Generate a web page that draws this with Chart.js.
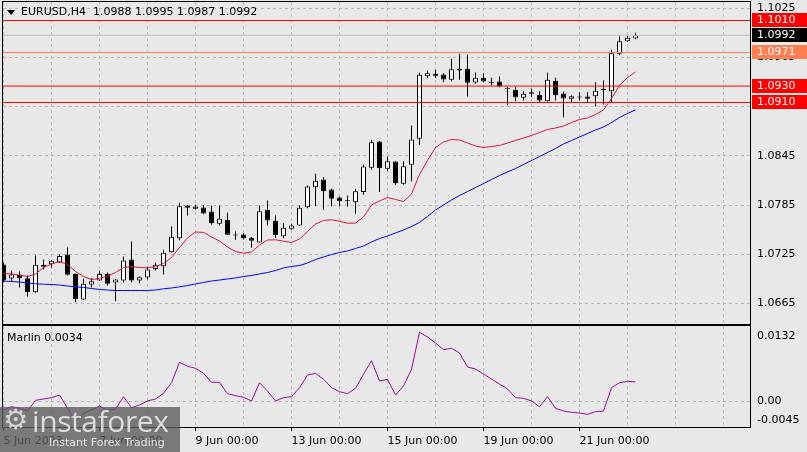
<!DOCTYPE html>
<html>
<head>
<meta charset="utf-8">
<script src="https://cdn.jsdelivr.net/npm/chart.js@4.4.0/dist/chart.umd.min.js"></script>
<style>
html,body{margin:0;padding:0;background:#e8e8e8;}
#wrap{position:relative;width:807px;height:452px;overflow:hidden;background:#e8e8e8;font-family:"DejaVu Sans",sans-serif;color:#000;}
#c1{position:absolute;left:0;top:0;}
#c2{position:absolute;left:0;top:325px;}
#tri{position:absolute;left:7px;top:10px;width:0;height:0;border-left:4px solid transparent;border-right:4px solid transparent;border-top:5px solid #000;}
#hdr{position:absolute;left:21px;top:5px;font-size:11px;line-height:14px;white-space:pre;}
#osc{position:absolute;left:7px;top:331px;font-size:11px;line-height:14px;white-space:pre;}
#wm{position:absolute;left:0;top:407px;width:180px;height:45px;background:rgba(92,92,92,0.8);}
#gear{position:absolute;left:3px;top:-2px;font-size:28px;line-height:30px;color:#d4d4d4;font-family:"DejaVu Sans",sans-serif;}
#wmt{position:absolute;left:32px;top:-3px;font-size:30px;line-height:34px;color:#dcdcdc;font-family:"Open Sans",sans-serif;letter-spacing:-0.4px;}
#wms{position:absolute;left:49px;top:29px;font-size:11px;line-height:14px;color:#e4e4e4;font-family:"DejaVu Sans",sans-serif;}
</style>
</head>
<body>
<div id="wrap">
  <canvas id="c1" width="807" height="325"></canvas>
  <canvas id="c2" width="807" height="127"></canvas>
  <div id="tri"></div>
  <div id="hdr">EURUSD,H4  1.0988 1.0995 1.0987 1.0992</div>
  <div id="osc">Marlin 0.0034</div>
  <div id="wm"><span id="gear">⚙</span><span id="wmt">instaforex</span><span id="wms">Instant Forex Trading</span></div>
</div>
<script>
// ---------- DATA ----------
const xTickIndex = [0, 12, 24, 36, 48, 60, 72];
const xTickLabels = ["5 Jun 2023", "7 Jun 00:00", "9 Jun 00:00", "13 Jun 00:00", "15 Jun 00:00", "19 Jun 00:00", "21 Jun 00:00"];
const priceTicks = [1.0665, 1.0725, 1.0785, 1.0845, 1.0905, 1.0965, 1.1025];
const marlinTicks = [0.0132, 0.00, -0.0045];
const marlinTickLabels = ["0.0132", "0.00", "-0.0045"];
const levelValues = [1.1010, 1.0992, 1.0971, 1.0930, 1.0910];
const levelLabels = ["1.1010", "1.0992", "1.0971", "1.0930", "1.0910"];

const opens = [1.07124,1.06953,1.06998,1.06957,1.06786,1.07120,1.07128,1.07149,1.07246,1.07010,
1.06697,1.06880,1.06929,1.07010,1.06904,1.06929,1.07185,1.06929,1.06966,1.07071,
1.07103,1.07274,1.07445,1.07844,1.07804,1.07820,1.07771,1.07621,1.07670,1.07487,
1.07490,1.07450,1.07393,1.07792,1.07657,1.07470,1.07560,1.07600,1.07823,1.08067,
1.08161,1.08039,1.07942,1.07896,1.07884,1.08009,1.08304,1.08624,1.08292,1.08380,
1.08108,1.08340,1.08657,1.09421,1.09450,1.09441,1.09377,1.09511,1.09511,1.09344,
1.09401,1.09348,1.09356,1.09279,1.09255,1.09157,1.09226,1.09194,1.09116,1.09365,
1.09210,1.09145,1.09161,1.09173,1.09177,1.09251,1.09238,1.09694,1.09848,1.0988];
const highs = [1.07149,1.07051,1.07039,1.06990,1.07234,1.07185,1.07180,1.07246,1.07332,1.07014,
1.06950,1.06959,1.07051,1.07026,1.06945,1.07222,1.07405,1.06978,1.07097,1.07149,
1.07304,1.07588,1.07877,1.07850,1.07853,1.07848,1.07840,1.07844,1.07755,1.07527,
1.07506,1.07459,1.07844,1.07905,1.07722,1.07628,1.07621,1.07844,1.08088,1.08230,
1.08189,1.08048,1.07954,1.07966,1.08048,1.08344,1.08645,1.08630,1.08441,1.08387,
1.08384,1.08820,1.09462,1.09490,1.09499,1.09457,1.09633,1.09694,1.09685,1.09466,
1.09457,1.09401,1.09417,1.09289,1.09287,1.09238,1.09267,1.09238,1.09462,1.09401,
1.09234,1.09185,1.09226,1.09226,1.09348,1.09368,1.09743,1.09905,1.09921,1.0995];
const lows = [1.06905,1.06917,1.06844,1.06734,1.06777,1.07063,1.07088,1.07146,1.06990,1.06664,
1.06691,1.06843,1.06923,1.06868,1.06676,1.06905,1.06908,1.06896,1.06941,1.07051,
1.07002,1.07271,1.07421,1.07722,1.07795,1.07737,1.07612,1.07600,1.07485,1.07426,
1.07429,1.07328,1.07392,1.07600,1.07450,1.07445,1.07548,1.07594,1.07811,1.07835,
1.07792,1.07832,1.07835,1.07832,1.07743,1.07975,1.08280,1.08009,1.08262,1.08096,
1.08100,1.08140,1.08584,1.09396,1.09401,1.09348,1.09356,1.09377,1.09173,1.09328,
1.09348,1.09307,1.09287,1.09067,1.09116,1.09124,1.09165,1.09104,1.09112,1.09124,
1.08921,1.09104,1.09124,1.09104,1.09051,1.09076,1.09104,1.09677,1.09840,1.0987];
const closes = [1.06929,1.07002,1.06957,1.06786,1.07120,1.07096,1.07170,1.07227,1.06998,1.06701,
1.06889,1.06920,1.07010,1.06889,1.06941,1.07173,1.06929,1.06969,1.07063,1.07120,
1.07267,1.07462,1.07835,1.07816,1.07832,1.07746,1.07628,1.07682,1.07487,1.07478,
1.07445,1.07413,1.07775,1.07661,1.07482,1.07572,1.07600,1.07816,1.08076,1.08145,
1.08018,1.07926,1.07896,1.07905,1.08018,1.08320,1.08616,1.08299,1.08384,1.08116,
1.08323,1.08649,1.09438,1.09457,1.09426,1.09380,1.09506,1.09490,1.09340,1.09401,
1.09356,1.09340,1.09299,1.09267,1.09165,1.09206,1.09206,1.09124,1.09377,1.09189,
1.09149,1.09177,1.09170,1.09145,1.09243,1.09259,1.09701,1.09848,1.09889,1.0992];
const maFast = [1.07015,1.07009,1.06996,1.06978,1.07009,1.07088,1.07131,1.07161,1.07124,1.07039,
1.06978,1.06941,1.06954,1.06984,1.07027,1.07088,1.07100,1.07088,1.07084,1.07100,
1.07137,1.07210,1.07332,1.07448,1.07521,1.07515,1.07460,1.07411,1.07338,1.07283,
1.07262,1.07277,1.07362,1.07423,1.07426,1.07409,1.07393,1.07435,1.07527,1.07618,
1.07661,1.07670,1.07652,1.07628,1.07630,1.07704,1.07850,1.07899,1.07941,1.07917,
1.07893,1.07984,1.08222,1.08393,1.08551,1.08618,1.08649,1.08643,1.08606,1.08570,
1.08551,1.08563,1.08576,1.08606,1.08637,1.08667,1.08698,1.08734,1.08771,1.08789,
1.08813,1.08856,1.08893,1.08911,1.08954,1.09009,1.09149,1.09307,1.09405,1.09472];
const maSlow = [1.06921,1.06917,1.06911,1.06899,1.06889,1.06884,1.06880,1.06874,1.06862,1.06852,
1.06844,1.06832,1.06820,1.06813,1.06807,1.06807,1.06807,1.06807,1.06807,1.06813,
1.06828,1.06838,1.06852,1.06868,1.06887,1.06905,1.06923,1.06935,1.06948,1.06960,
1.06978,1.06990,1.07009,1.07027,1.07051,1.07082,1.07100,1.07112,1.07143,1.07185,
1.07216,1.07246,1.07271,1.07289,1.07320,1.07350,1.07399,1.07441,1.07472,1.07509,
1.07545,1.07588,1.07637,1.07710,1.07789,1.07850,1.07911,1.07966,1.08015,1.08063,
1.08112,1.08161,1.08210,1.08252,1.08295,1.08344,1.08393,1.08441,1.08490,1.08539,
1.08594,1.08637,1.08679,1.08722,1.08765,1.08801,1.08856,1.08917,1.08966,1.09011];
const marlin = [-0.00152,-0.00094,-0.00122,-0.00170,0.00018,0.00041,0.00064,0.00111,-0.00122,-0.00350,
-0.00210,-0.00152,-0.00082,-0.00158,-0.00135,0.00081,-0.00112,-0.00064,0.00006,0.00041,
0.00140,0.00326,0.00684,0.00614,0.00579,0.00491,0.00333,0.00333,0.00134,0.00099,
0.00070,0.00006,0.00326,0.00181,0.00006,0.00064,0.00081,0.00239,0.00461,0.00491,
0.00386,0.00239,0.00169,0.00134,0.00228,0.00474,0.00712,0.00356,0.00386,0.00111,
0.00269,0.00561,0.01210,0.01127,0.01022,0.00905,0.00929,0.00847,0.00601,0.00566,
0.00479,0.00391,0.00304,0.00216,0.00064,0.00053,0.00006,-0.00094,0.00081,-0.00122,
-0.00170,-0.00192,-0.00205,-0.00228,-0.00182,-0.00170,0.00239,0.00326,0.00350,0.00340];

// ---------- STYLE / LAYOUT ----------
const levelColors = ["#ff0000", "#c0c0c0", "#ff7f50", "#ff0000", "#ff0000"];
const levelBoxColors = ["#ff0000", "#000000", "#ff7f50", "#ff0000", "#ff0000"];
const X_MIN = -0.0625, X_MAX = 93.3125;
const P_MAX = 1.103256, P_MIN = 1.063988;
const M_MAX = 0.0132, M_MIN = -0.0045;
const GRID = '#b9b9b9';

Chart.defaults.font.family = "'DejaVu Sans', sans-serif";
Chart.defaults.font.size = 11;
Chart.defaults.color = '#000';

const idx = opens.map((_, i) => i);
const gridTicks = [];
for (let t = 0; t <= 90; t += 6) gridTicks.push(t);

function noPad(s) { s.paddingTop = 0; s.paddingBottom = 0; s.paddingLeft = 0; s.paddingRight = 0; }

const framePlugin = {
  id: 'frame',
  afterDraw(chart) {
    const {ctx, chartArea: a} = chart;
    ctx.save();
    ctx.strokeStyle = '#000';
    ctx.lineWidth = 1;
    ctx.strokeRect(Math.round(a.left) - 0.5, Math.round(a.top) - 0.5,
      Math.round(a.right - a.left) + 1, Math.round(a.bottom - a.top) + 1);
    ctx.restore();
  }
};

const levelBoxPlugin = {
  id: 'levelBoxes',
  afterDraw(chart) {
    const {ctx} = chart;
    const ys = chart.scales.y;
    ctx.save();
    ctx.font = "11px 'DejaVu Sans', sans-serif";
    ctx.textBaseline = 'middle';
    ctx.textAlign = 'left';
    levelValues.forEach((v, k) => {
      const y = Math.round(ys.getPixelForValue(v));
      ctx.fillStyle = levelBoxColors[k];
      ctx.fillRect(752, y - 7, 55, 14);
      ctx.fillStyle = '#ffffff';
      ctx.fillText(levelLabels[k], 757, y + 0.5);
    });
    ctx.restore();
  }
};

const marlinAxisPlugin = {
  id: 'marlinAxis',
  afterDraw(chart) {
    const {ctx} = chart;
    const ys = chart.scales.y;
    const shift = [10, 0, -7];
    ctx.save();
    ctx.font = "11px 'DejaVu Sans', sans-serif";
    ctx.textBaseline = 'middle';
    ctx.textAlign = 'left';
    ctx.fillStyle = '#000';
    marlinTicks.forEach((v, k) => {
      const y = ys.getPixelForValue(v) + shift[k];
      ctx.fillText(marlinTickLabels[k], 757, y);
    });
    ctx.restore();
  }
};

const levelDatasets = levelValues.map((v, k) => ({
  type: 'line',
  data: [{x: X_MIN, y: v}, {x: X_MAX, y: v}],
  borderColor: levelColors[k],
  borderWidth: 1,
  pointRadius: 0,
  order: 0
}));

new Chart(document.getElementById('c1'), {
  type: 'bar',
  data: {
    datasets: [
      ...levelDatasets,
      {type: 'line', data: idx.map(i => ({x: i, y: maFast[i]})), borderColor: '#dc143c', borderWidth: 1, pointRadius: 0, tension: 0, order: 1},
      {type: 'line', data: idx.map(i => ({x: i, y: maSlow[i]})), borderColor: '#0000ff', borderWidth: 1, pointRadius: 0, tension: 0, order: 1},
      {type: 'bar', data: idx.map(i => ({x: i, y: [opens[i], closes[i]]})),
        backgroundColor: idx.map(i => closes[i] >= opens[i] ? '#ffffff' : '#000000'),
        borderColor: '#000', borderWidth: 1, borderSkipped: false, barThickness: 5,
        grouped: false, inflateAmount: 0, minBarLength: 1, order: 2},
      {type: 'bar', data: idx.map(i => ({x: i, y: [lows[i], highs[i]]})),
        backgroundColor: '#000', borderWidth: 0, barThickness: 1, grouped: false,
        inflateAmount: 0, order: 3}
    ]
  },
  options: {
    responsive: false, animation: false,
    layout: {padding: {left: 3, right: 0, top: 2, bottom: 1}},
    plugins: {legend: {display: false}, tooltip: {enabled: false}},
    scales: {
      x: {
        type: 'linear', min: X_MIN, max: X_MAX, offset: false,
        afterBuildTicks: s => { s.ticks = gridTicks.map(v => ({value: v})); },
        afterFit: s => { s.height = 0; noPad(s); },
        ticks: {display: false},
        grid: {color: GRID, drawTicks: false, offset: false},
        border: {display: false, dash: [3, 3]}
      },
      y: {
        type: 'linear', position: 'right', min: P_MIN, max: P_MAX, beginAtZero: false,
        afterBuildTicks: s => { s.ticks = priceTicks.map(v => ({value: v})); },
        afterFit: s => { s.width = 57; noPad(s); },
        ticks: {padding: 7, callback: v => v.toFixed(4)},
        grid: {color: GRID, drawTicks: false},
        border: {display: false, dash: [3, 3]}
      }
    }
  },
  plugins: [framePlugin, levelBoxPlugin]
});

new Chart(document.getElementById('c2'), {
  type: 'line',
  data: {
    datasets: [
      {data: idx.map(i => ({x: i, y: marlin[i]})), borderColor: '#9c0a9c', borderWidth: 1, pointRadius: 0, tension: 0}
    ]
  },
  options: {
    responsive: false, animation: false,
    layout: {padding: {left: 3, right: 0, top: 1, bottom: 0}},
    plugins: {legend: {display: false}, tooltip: {enabled: false}},
    scales: {
      x: {
        type: 'linear', min: X_MIN, max: X_MAX, offset: false,
        afterBuildTicks: s => { s.ticks = gridTicks.map(v => ({value: v})); },
        afterFit: s => { s.height = 25; noPad(s); },
        ticks: {
          align: 'start', autoSkip: false, maxRotation: 0, padding: 4,
          callback: v => { const k = xTickIndex.indexOf(v); return k >= 0 ? xTickLabels[k] : ''; }
        },
        grid: {
          color: GRID, drawTicks: true, tickLength: 4, offset: false,
          tickColor: c => (c.tick && xTickIndex.indexOf(c.tick.value) >= 0) ? '#000' : 'rgba(0,0,0,0)'
        },
        border: {display: false, dash: [3, 3]}
      },
      y: {
        type: 'linear', position: 'right', min: M_MIN, max: M_MAX,
        afterBuildTicks: s => { s.ticks = [{value: 0}]; },
        afterFit: s => { s.width = 57; noPad(s); },
        ticks: {display: false},
        grid: {color: GRID, drawTicks: false},
        border: {display: false, dash: [3, 3]}
      }
    }
  },
  plugins: [framePlugin, marlinAxisPlugin]
});
</script>
</body>
</html>
